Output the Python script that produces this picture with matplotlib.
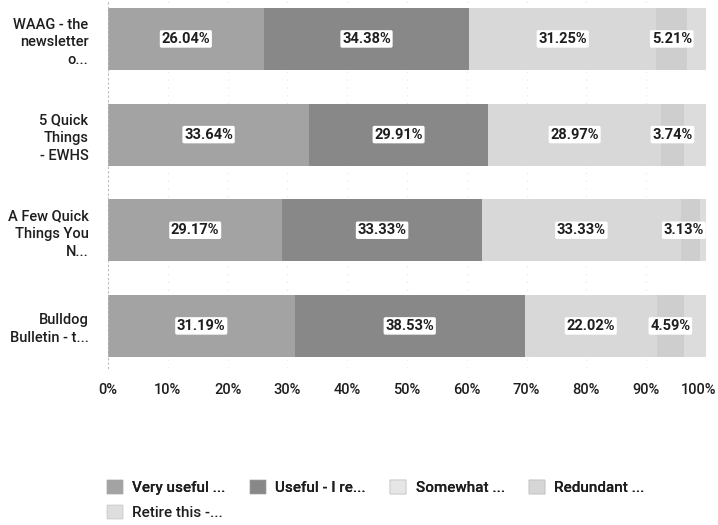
import numpy as np
import matplotlib.pyplot as plt
from matplotlib.patches import Patch

plt.rcParams['font.family'] = ['Roboto', 'DejaVu Sans']

categories = ["WAAG - the\nnewsletter\no...", "5 Quick\nThings\n- EWHS",
              "A Few Quick\nThings You\nN...", "Bulldog\nBulletin - t..."]
series_names = ["Very useful ...", "Useful - I re...", "Somewhat ...",
                "Redundant ...", "Retire this -..."]
very_useful = [26.04, 33.64, 29.17, 31.19]
useful = [34.38, 29.91, 33.33, 38.53]
somewhat = [31.25, 28.97, 33.33, 22.02]
redundant = [5.21, 3.74, 3.13, 4.59]
retire = [3.12, 3.74, 1.04, 3.67]
ticks = list(range(0, 101, 10))
tick_labels = [f"{t}%" for t in ticks]
series = [very_useful, useful, somewhat, redundant, retire]
show_label = [True, True, True, True, False]
colors = ['#a3a3a3', '#888888', '#d8d8d8', '#cecece', '#dcdcdc']
legend_colors = ['#a3a3a3', '#888888', '#e6e6e6', '#d6d6d6', '#dedede']
ink = '#1e1e1e'

fig = plt.figure(figsize=(7.18, 5.25), dpi=100)
ax = fig.add_axes([108/718, 1 - 368/525, (706 - 108)/718, 368/525])

y = np.arange(len(categories))
left = np.zeros(len(categories))
for vals, col, lab, show in zip(series, colors, series_names, show_label):
    vals = np.array(vals)
    ax.barh(y, vals, left=left, height=0.65, color=col, edgecolor='none', label=lab)
    if show:
        for i, v in enumerate(vals):
            cx = min(left[i] + v / 2, 96.3)
            ax.text(cx, y[i], f"{v:.2f}%", ha='center', va='center', fontsize=10.5,
                    fontweight='bold', color=ink,
                    bbox=dict(boxstyle='round,pad=0.12', fc='white', ec='none'))
    left += vals

ax.set_xlim(0, 100)
ax.set_ylim(3.44, -0.407)
ax.set_xticks(ticks)
# the last label is drawn separately, nudged inwards so it stays inside the picture
ax.set_xticklabels(tick_labels[:-1] + [""], fontsize=10.5, fontweight='medium', color=ink)
ax.annotate(tick_labels[-1], xy=(ticks[-1], 0), xycoords=('data', 'axes fraction'),
            xytext=(-5, -11), textcoords='offset points', ha='center', va='top',
            fontsize=10.5, fontweight='medium', color=ink)
ax.set_yticks(y)
ax.set_yticklabels(categories, fontsize=10.5, fontweight='medium', color=ink,
                   linespacing=1.35)
ax.tick_params(axis='both', length=0)
ax.tick_params(axis='x', pad=11)
ax.tick_params(axis='y', pad=14)
for s in ['top', 'right', 'bottom']:
    ax.spines[s].set_visible(False)
ax.spines['left'].set_linestyle((0, (1, 3)))
ax.spines['left'].set_color('#bbbbbb')
ax.set_axisbelow(True)
ax.grid(axis='x', color='#e6e6e6', linestyle=(0, (1, 6)), linewidth=0.8)

handles = [Patch(facecolor=c, edgecolor='#aaaaaa', linewidth=0.3) for c in legend_colors]
common = dict(loc='upper left', frameon=False, handlelength=1.05, handleheight=1.05,
              handletextpad=0.6, borderpad=0, borderaxespad=0,
              prop={'size': 11, 'weight': 'medium'})
leg1 = fig.legend(handles[:4], series_names[:4], bbox_to_anchor=(107/718, 1 - 480/525),
                  ncol=4, columnspacing=1.6, **common)
for t in leg1.get_texts():
    t.set_color(ink)
leg2 = fig.legend(handles[4:], series_names[4:], bbox_to_anchor=(107/718, 1 - 505/525),
                  ncol=1, **common)
for t in leg2.get_texts():
    t.set_color(ink)
fig.add_artist(leg1)

fig.savefig('out.png', dpi=100)
